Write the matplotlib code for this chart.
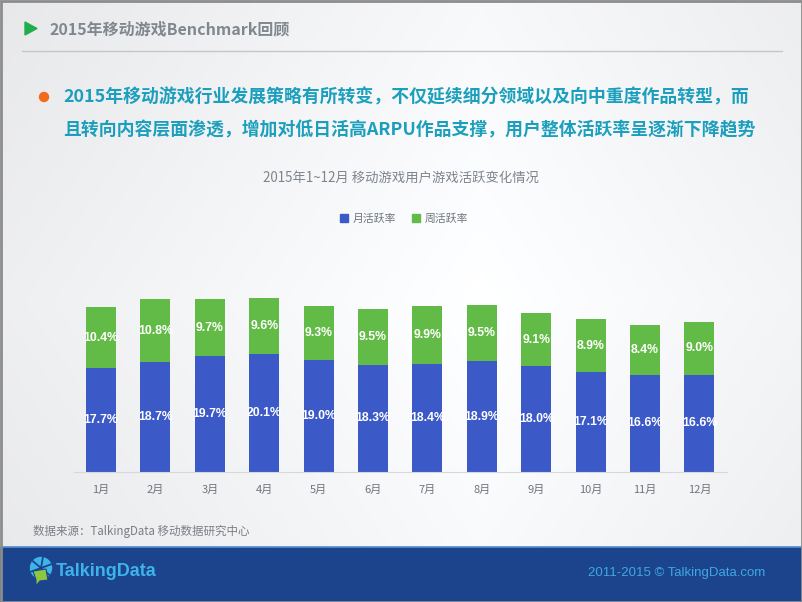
import numpy as np
import matplotlib
matplotlib.use("Agg")
import matplotlib.pyplot as plt
from matplotlib.patches import Rectangle, Polygon, Wedge, Circle
from matplotlib.lines import Line2D

plt.rcParams['font.family'] = ['Noto Sans CJK SC', 'DejaVu Sans']

# data
months = ["1月", "2月", "3月", "4月", "5月", "6月", "7月", "8月", "9月", "10月", "11月", "12月"]
monthly_active = [17.7, 18.7, 19.7, 20.1, 19.0, 18.3, 18.4, 18.9, 18.0, 17.1, 16.6, 16.6]
weekly_active = [10.4, 10.8, 9.7, 9.6, 9.3, 9.5, 9.9, 9.5, 9.1, 8.9, 8.4, 9.0]
series_names = ["月活跃率", "周活跃率"]

page_title = "2015年移动游戏Benchmark回顾"
headline = ["2015年移动游戏行业发展策略有所转变，不仅延续细分领域以及向中重度作品转型，而",
            "且转向内容层面渗透，增加对低日活高ARPU作品支撑，用户整体活跃率呈逐渐下降趋势"]
chart_title = "2015年1~12月 移动游戏用户游戏活跃变化情况"
source = "数据来源：TalkingData 移动数据研究中心"

BLUE = "#3b59c7"
GREEN = "#62bb46"
W, H = 802, 602

fig = plt.figure(figsize=(W / 100, H / 100), dpi=100)

# slide background + decorations in pixel coordinates
bg = fig.add_axes([0, 0, 1, 1])
bg.set_xlim(0, W)
bg.set_ylim(H, 0)
bg.axis("off")
yy, xx = np.mgrid[0:1:200j, 0:1:300j]
shade = 0.91 + 0.09 * np.clip(1 - (np.abs(xx - 0.6) * 1.2 + np.abs(yy - 0.5) * 0.6), 0, 1)
bg.imshow(np.dstack([shade, shade * 1.003, shade * 1.01]).clip(0, 1),
          extent=[0, W, H, 0], aspect="auto", zorder=0)

# footer band
bg.add_patch(Rectangle((0, 547), W, 55, color="#1b448c", zorder=1))
bg.plot([0, W], [547, 547], color="#5a8fcf", lw=1.2, zorder=2)
# frame
bg.add_patch(Rectangle((0.5, 0.5), W - 1, H - 1, fill=False, ec="#8c8c8c", lw=2, zorder=5))

# header
bg.add_patch(Polygon([[25, 22], [25, 35], [37, 28.5]], color="#22ad4d", zorder=2))
bg.text(50, 29, page_title, fontsize=11.5, fontweight="bold", color="#80888f",
        va="center", ha="left", zorder=3)
bg.plot([22, 782], [51, 51], color="#c3c7cc", lw=1, zorder=2)

# headline bullet
bg.add_patch(Circle((44, 97), 4.5, color="#f26b1d", zorder=3))
for i, line in enumerate(headline):
    bg.text(63, 97 + i * 33, line, fontsize=12.85, fontweight="bold", color="#1b9fbd",
            va="center", ha="left", zorder=3)

bg.text(401, 178, chart_title, fontsize=9.6, color="#7d848b", ha="center", va="center", zorder=3)
bg.text(33, 531, source, fontsize=8.3, color="#7a7f85", ha="left", va="center", zorder=3)

# footer logo
bg.add_patch(Circle((41, 568), 10.5, color="#3fb4ea", zorder=3))
for ang in np.deg2rad([20, 80, 140, 200, 260, 320]):
    bg.plot([41, 41 + 10.5 * np.cos(ang)], [568, 568 - 10.5 * np.sin(ang)],
            color="#1b448c", lw=1.3, zorder=4)
bg.add_patch(Polygon([[33, 571], [46, 569], [48, 580], [40, 581], [36, 586], [36, 580]],
                     color="#8dc63f", ec="#1b448c", lw=0.8, zorder=5))
bg.text(56, 571, "TalkingData", fontsize=13, fontweight="bold", color="#3eb2ea",
        family=["Liberation Sans Narrow", "Liberation Sans", "DejaVu Sans"],
        ha="left", va="center", zorder=3)
bg.text(765, 573, "2011-2015 © TalkingData.com", fontsize=9.5, color="#3fa8e0",
        family=["Liberation Sans", "DejaVu Sans"], ha="right", va="center", zorder=3)

# chart
ax = fig.add_axes([73.8 / W, 130 / H, 652.8 / W, 205.4 / H])
ax.patch.set_alpha(0)
x = np.arange(len(months))
ax.bar(x, monthly_active, width=0.55, color=BLUE, label=series_names[0], zorder=2)
ax.bar(x, weekly_active, width=0.55, bottom=monthly_active, color=GREEN,
       label=series_names[1], zorder=2)
ax.set_xlim(-0.5, len(months) - 0.5)
ax.set_ylim(0, 35)
lab_font = dict(fontsize=8.8, fontweight="bold", color="white",
                family=["Liberation Sans Narrow", "Liberation Sans", "DejaVu Sans"],
                ha="center", va="center", zorder=3)
for i in range(len(months)):
    ax.text(x[i], monthly_active[i] / 2, f"{monthly_active[i]:.1f}%", **lab_font)
    ax.text(x[i], monthly_active[i] + weekly_active[i] / 2, f"{weekly_active[i]:.1f}%", **lab_font)

ax.set_xticks(x)
ax.set_xticklabels(months, fontsize=8, color="#6f757b")
ax.tick_params(axis="x", length=0, pad=9)
ax.set_yticks([])
for s in ["top", "right", "left"]:
    ax.spines[s].set_visible(False)
ax.spines["bottom"].set_color("#d5d8dc")

handles = [Line2D([0], [0], marker="s", ls="", color=BLUE, markersize=6),
           Line2D([0], [0], marker="s", ls="", color=GREEN, markersize=6)]
fig.legend(handles, series_names, loc="center", bbox_to_anchor=(404 / W, 1 - 219 / H),
           ncol=2, frameon=False, fontsize=7.8, handlelength=0.8, handletextpad=0.4,
           columnspacing=1.5, labelcolor="#6f757b")

fig.savefig("out.png", dpi=100)
